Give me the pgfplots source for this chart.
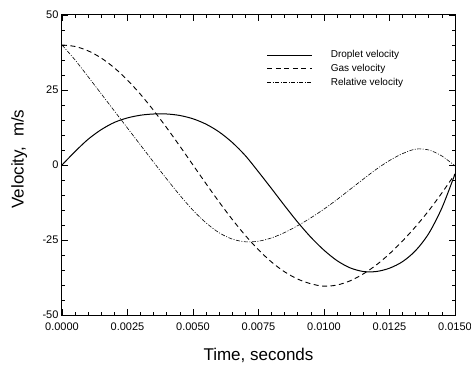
\documentclass[border=0pt]{standalone}
\usepackage{fontspec}
\setmainfont{Liberation Sans}
\usepackage{pgfplots}
\usepackage{pgfplotstable}
\pgfplotsset{compat=1.18}
\pgfplotstableread{
t droplet gas relative
0.0000 0.0 40.00 40.0
0.0005 4.5 39.51 35.0
0.0010 8.6 38.04 29.4
0.0015 11.8 35.64 23.7
0.0020 14.2 32.36 18.0
0.0025 15.7 28.28 12.3
0.0030 16.6 23.51 6.6
0.0035 17.0 18.16 0.9
0.0040 17.0 12.36 -4.7
0.0045 16.5 6.26 -10.1
0.0050 15.4 0.00 -15.1
0.0055 13.6 -6.26 -19.3
0.0060 11.0 -12.36 -22.6
0.0065 7.5 -18.16 -24.7
0.0070 3.1 -23.51 -25.6
0.0075 -2.3 -28.28 -25.4
0.0080 -7.9 -32.36 -24.3
0.0085 -13.6 -35.64 -22.5
0.0090 -19.1 -38.04 -20.2
0.0095 -24.1 -39.60 -17.6
0.0100 -28.4 -40.40 -14.7
0.0105 -31.9 -40.00 -11.5
0.0110 -34.3 -38.60 -8.1
0.0115 -35.5 -36.30 -4.7
0.0120 -35.5 -33.30 -1.4
0.0125 -34.4 -29.60 1.5
0.0130 -32.2 -25.30 3.8
0.0135 -28.5 -20.50 5.3
0.0140 -22.8 -15.20 5.0
0.0145 -14.3 -9.30 3.0
0.0150 -3.0 -3.00 -0.3
}\datatable
\begin{document}
\begin{tikzpicture}
\begin{axis}[
  name=ax,
  scale only axis,
  width=393pt, height=300pt,
  xmin=0, xmax=0.015, ymin=-50, ymax=50,
  xtick={0,0.0025,0.005,0.0075,0.01,0.0125,0.015},
  ytick={-50,-25,0,25,50},
  minor x tick num=4, minor y tick num=4,
  tick align=inside,
  major tick length=6pt, minor tick length=3pt,
  scaled x ticks=false,
  /pgf/number format/assume math mode=true,
  x tick label style={/pgf/number format/.cd, fixed, fixed zerofill, precision=4, /tikz/.cd, yshift=-4pt},
  ticklabel style={font=\fontsize{11}{13}\selectfont},
  axis line style={line width=1pt},
  every tick/.style={black, line width=0.8pt},
  label style={font=\fontsize{17}{20}\selectfont},
  xlabel={Time, seconds},
  ylabel={Velocity,\ \ m/s},
  xlabel style={at={(axis description cs:0.5,-0.152)}, anchor=base},
  ylabel style={at={(axis description cs:-0.109,0.52)}, anchor=center},
  legend style={at={(axis description cs:0.513,0.895)}, anchor=north west, draw=none, fill=none,
    font=\fontsize{10}{12}\selectfont, row sep=1pt,
    /tikz/every odd column/.append style={column sep=16pt}},
  legend image code/.code={\draw[#1] (0pt,0pt) -- (45pt,0pt);},
  legend cell align=left,
]
\addplot[black, line width=1pt, smooth] table[x=t, y=droplet] {\datatable};
\addlegendentry{Droplet velocity}
\addplot[black, line width=0.9pt, smooth, dash pattern=on 5pt off 3.5pt] table[x=t, y=gas] {\datatable};
\addlegendentry{Gas velocity}
\addplot[black, line width=0.6pt, smooth, dash pattern=on 4pt off 1.5pt on 1pt off 1.5pt] table[x=t, y=relative] {\datatable};
\addlegendentry{Relative velocity}
\end{axis}
\pgfresetboundingbox
\path ([xshift=-62pt,yshift=-49pt]ax.south west) rectangle ([xshift=16pt,yshift=15pt]ax.north east);
\end{tikzpicture}
\end{document}
